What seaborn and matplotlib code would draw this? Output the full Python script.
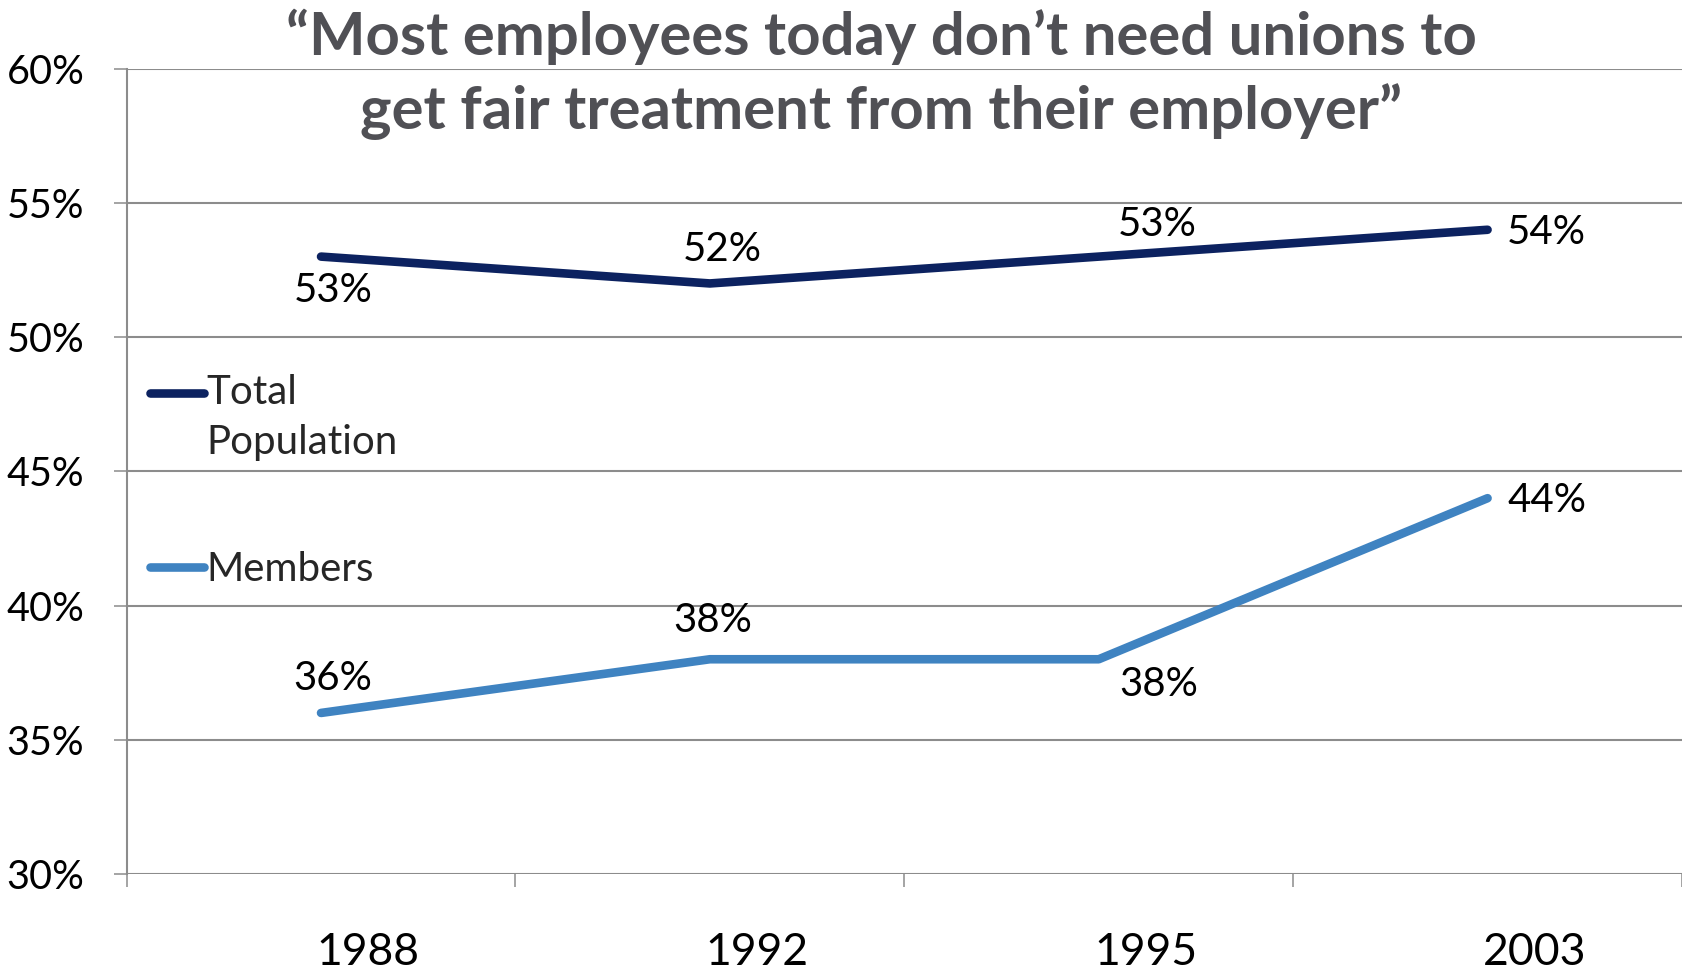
import matplotlib
matplotlib.use("Agg")
import matplotlib.pyplot as plt
import matplotlib.transforms as mtransforms
from matplotlib.legend_handler import HandlerLine2D
from matplotlib.lines import Line2D
import seaborn as sns
import pandas as pd

# ---- data ----
years = ["1988", "1992", "1995", "2003"]
total_population = [53, 52, 53, 54]
members = [36, 38, 38, 44]
series_names = ["Total\nPopulation", "Members"]
y_ticks = [30, 35, 40, 45, 50, 55, 60]
title = "\u201cMost employees today don\u2019t need unions to\nget fair treatment from their employer\u201d"

# ---- styles ----
colors = {"Total\nPopulation": "#0c2260", "Members": "#3f83c1"}
# label offsets in pixels (dx, dy up)
total_offsets = [(12, -34), (12, 34), (59, 32), (59, -3)]
member_offsets = [(12, 34), (3, 39), (60, -25), (59, -2)]

sns.set_theme(style="white")
FONT = "Lato"
plt.rcParams["font.family"] = [FONT, "DejaVu Sans"]

df = pd.DataFrame({
    "year": years * 2,
    "value": total_population + members,
    "series": [series_names[0]] * len(years) + [series_names[1]] * len(years),
})

fig = plt.figure(figsize=(16.82, 9.71), dpi=100)
ax = fig.add_axes([126.6 / 1682, 1 - 874 / 971, 1 - 126.6 / 1682, (874 - 68.7) / 971])

sns.lineplot(data=df, x="year", y="value", hue="series", palette=colors,
             linewidth=6.2, solid_capstyle="round", legend=False, ax=ax, sort=False)

ax.set_xlim(-0.5, len(years) - 0.5)
ax.set_ylim(30, 60)
ax.set_yticks(y_ticks)
ax.set_yticklabels([f"{v}%" for v in y_ticks])
ax.set_xticks(range(len(years)))
ax.set_xticklabels(years)
ax.set_xticks([i + 0.5 for i in range(-1, len(years))], minor=True)
ax.set_xlabel("")
ax.set_ylabel("")

grid_c = "#8c8c8c"
ax.grid(axis="y", color=grid_c, linewidth=1.5)
ax.set_axisbelow(True)
for s in ["top", "right", "bottom"]:
    ax.spines[s].set_visible(False)
ax.spines["left"].set_color(grid_c)
ax.spines["left"].set_linewidth(1.5)

ax.tick_params(axis="y", which="major", left=True, length=9.4, width=1.1, color=grid_c,
               pad=21, labelsize=28.5, labelcolor="black")
ax.tick_params(axis="x", which="major", bottom=False, length=0, pad=42, labelsize=32,
               labelcolor="black")
ax.tick_params(axis="x", which="minor", bottom=True, length=9.4, width=1.1, color=grid_c)
offset = mtransforms.ScaledTranslation(47 / 100, 0, fig.dpi_scale_trans)
for lab in ax.get_xticklabels():
    lab.set_transform(lab.get_transform() + offset)

# data labels
for vals, offs in [(total_population, total_offsets), (members, member_offsets)]:
    for i, (v, (dx, dy)) in enumerate(zip(vals, offs)):
        ax.annotate(f"{v}%", (i, v), xytext=(dx, dy), textcoords="offset pixels",
                    ha="center", va="center", fontsize=29, color="black")

# legend
class ShiftHandler(HandlerLine2D):
    def __init__(self, shift=0, **kw):
        super().__init__(**kw)
        self.shift = shift

    def create_artists(self, legend, orig_handle, xdescent, ydescent, width, height,
                       fontsize, trans):
        arts = super().create_artists(legend, orig_handle, xdescent, ydescent, width,
                                      height, fontsize, trans)
        for a in arts:
            yd = a.get_ydata()
            a.set_ydata([y + self.shift for y in yd])
        return arts

h_total = Line2D([], [], color=colors[series_names[0]], linewidth=6.2, solid_capstyle="round")
h_mem = Line2D([], [], color=colors[series_names[1]], linewidth=6.2, solid_capstyle="round")
leg = ax.legend([h_total, h_mem], series_names, loc="upper left",
                bbox_to_anchor=(150 / 1682, 1 - 374 / 971), bbox_transform=fig.transFigure,
                frameon=False, fontsize=29, handlelength=1.35, handletextpad=0.05,
                labelspacing=2.22, borderpad=0, borderaxespad=0,
                handler_map={h_total: ShiftHandler(shift=18.5)})
for t in leg.get_texts():
    t.set_linespacing(1.44)

fig.text(881 / 1682, 1 - 74.5 / 971, title, ha="center", va="center", fontsize=43,
         fontweight="bold", color="#505055", linespacing=1.39)

fig.savefig("out.png", dpi=100)
